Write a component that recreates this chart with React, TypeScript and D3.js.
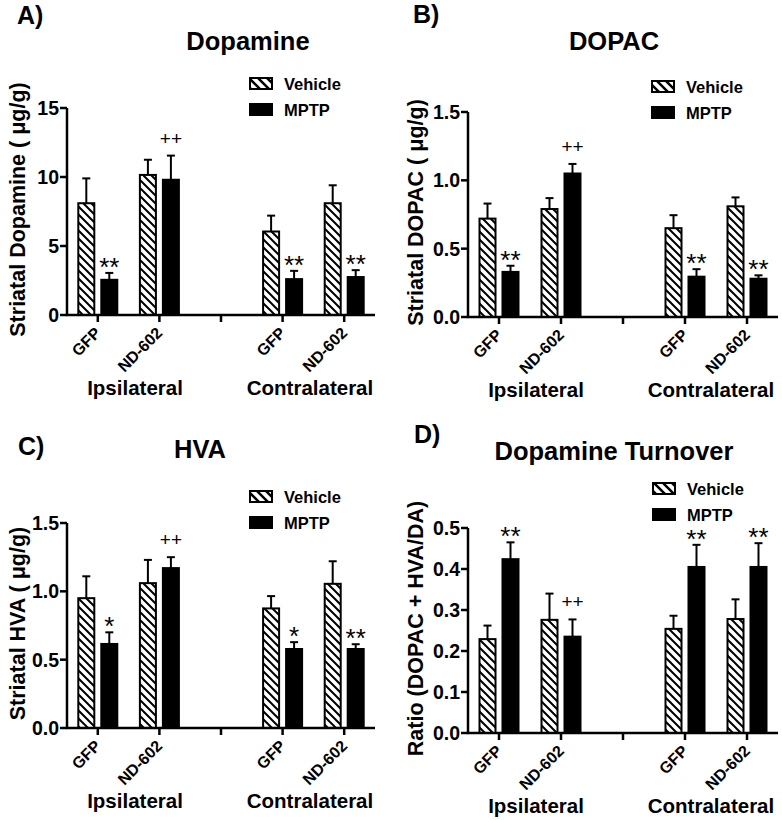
import React from "react";
import * as d3 from "d3";

// ---------- data ----------
const slots = ["GFP_I", "ND_I", "gap", "GFP_C", "ND_C"];
const tickLabels = ["GFP", "ND-602", "", "GFP", "ND-602"];
const barSlots = ["GFP_I", "ND_I", "GFP_C", "ND_C"];
const groupLabels = ["Ipsilateral", "Contralateral"];
const seriesNames = ["Vehicle", "MPTP"];

const daVehicle = [8.1, 10.15, 6.05, 8.1];
const daVehicleErr = [1.8, 1.1, 1.15, 1.3];
const daMPTP = [2.55, 9.8, 2.6, 2.75];
const daMPTPErr = [0.5, 1.75, 0.6, 0.5];
const daMarks = ["**", "++", "**", "**"];
const daTicks = [0, 5, 10, 15];

const dopacVehicle = [0.72, 0.79, 0.65, 0.81];
const dopacVehicleErr = [0.11, 0.08, 0.095, 0.065];
const dopacMPTP = [0.33, 1.05, 0.295, 0.28];
const dopacMPTPErr = [0.045, 0.07, 0.055, 0.025];
const dopacMarks = ["**", "++", "**", "**"];
const dopacTicks = [0, 0.5, 1.0, 1.5];

const hvaVehicle = [0.95, 1.06, 0.875, 1.055];
const hvaVehicleErr = [0.16, 0.17, 0.09, 0.165];
const hvaMPTP = [0.615, 1.17, 0.578, 0.578];
const hvaMPTPErr = [0.085, 0.08, 0.05, 0.035];
const hvaMarks = ["*", "++", "*", "**"];
const hvaTicks = [0, 0.5, 1.0, 1.5];

const toVehicle = [0.229, 0.276, 0.254, 0.278];
const toVehicleErr = [0.033, 0.064, 0.032, 0.048];
const toMPTP = [0.424, 0.235, 0.405, 0.405];
const toMPTPErr = [0.041, 0.042, 0.054, 0.058];
const toMarks = ["**", "++", "**", "**"];
const toTicks = [0, 0.1, 0.2, 0.3, 0.4, 0.5];

// ---------- layout ----------
const FONT = "'Liberation Sans', Arial, sans-serif";

const panels = [
  {
    key: "A", letter: "A)", letterX: 17, letterY: 24,
    title: "Dopamine", titleX: 248, titleY: 50,
    yLabel: "Striatal Dopamine ( \u03bcg/g)", yLabelX: 25,
    ax: 67, y0: 315, yTop: 108, xr: 375,
    ticks: daTicks, fmt: d3.format("d"),
    veh: daVehicle, vehErr: daVehicleErr, mptp: daMPTP, mptpErr: daMPTPErr, marks: daMarks,
    legendX: 249, legendY: 77,
  },
  {
    key: "B", letter: "B)", letterX: 413, letterY: 23,
    title: "DOPAC", titleX: 614, titleY: 50,
    yLabel: "Striatal DOPAC ( \u03bcg/g)", yLabelX: 423,
    ax: 468, y0: 317, yTop: 112, xr: 778,
    ticks: dopacTicks, fmt: d3.format(".1f"),
    veh: dopacVehicle, vehErr: dopacVehicleErr, mptp: dopacMPTP, mptpErr: dopacMPTPErr, marks: dopacMarks,
    legendX: 651, legendY: 80,
  },
  {
    key: "C", letter: "C)", letterX: 18, letterY: 455,
    title: "HVA", titleX: 200, titleY: 458,
    yLabel: "Striatal HVA ( \u03bcg/g)", yLabelX: 25,
    ax: 67, y0: 728, yTop: 523, xr: 375,
    ticks: hvaTicks, fmt: d3.format(".1f"),
    veh: hvaVehicle, vehErr: hvaVehicleErr, mptp: hvaMPTP, mptpErr: hvaMPTPErr, marks: hvaMarks,
    legendX: 249, legendY: 490,
  },
  {
    key: "D", letter: "D)", letterX: 414, letterY: 443,
    title: "Dopamine Turnover", titleX: 614, titleY: 460,
    yLabel: "Ratio (DOPAC + HVA/DA)", yLabelX: 423,
    ax: 468, y0: 733, yTop: 528, xr: 778,
    ticks: toTicks, fmt: d3.format(".1f"),
    veh: toVehicle, vehErr: toVehicleErr, mptp: toMPTP, mptpErr: toMPTPErr, marks: toMarks,
    legendX: 652, legendY: 482,
  },
];

function Panel({ p }: { p: any }) {
  const maxV = p.ticks[p.ticks.length - 1];
  const y = d3.scaleLinear().domain([0, maxV]).range([p.y0, p.yTop]);
  const x = d3.scaleBand<string>().domain(slots).range([p.ax, p.xr]);
  const sub = d3.scaleBand<string>().domain(seriesNames).range([-20.5, 20.5]).paddingInner(0.217);
  const bw = sub.bandwidth();
  const cx = (s: string) => (x(s) as number) + x.bandwidth() / 2;
  const series = [
    { name: "Vehicle", vals: p.veh, errs: p.vehErr, fill: "url(#hatch)", marks: null },
    { name: "MPTP", vals: p.mptp, errs: p.mptpErr, fill: "#000", marks: p.marks },
  ];
  const midY = (p.y0 + p.yTop) / 2 - 2;
  return (
    <g>
      <text x={p.letterX} y={p.letterY} fontSize={25} fontWeight="bold">{p.letter}</text>
      <text x={p.titleX} y={p.titleY} fontSize={25.5} fontWeight="bold" textAnchor="middle">{p.title}</text>
      <text transform={`translate(${p.yLabelX},${midY}) rotate(-90)`} fontSize={21.5} fontWeight="bold" textAnchor="middle">{p.yLabel}</text>

      {/* legend */}
      {seriesNames.map((n, i) => (
        <g key={n}>
          <rect x={p.legendX + 1} y={p.legendY + i * 26 + 1} width={22} height={11}
            fill={i === 0 ? "url(#hatchL)" : "#000"} stroke="#000" strokeWidth={2} />
          <text x={p.legendX + 35} y={p.legendY + i * 26 + 12.5} fontSize={16.5} fontWeight="bold">{n}</text>
        </g>
      ))}

      {/* bars */}
      {series.map((s) =>
        barSlots.map((slot, i) => {
          const bx = cx(slot) + (sub(s.name) as number);
          const v = s.vals[i];
          const top = y(v + s.errs[i]);
          const mx = bx + bw / 2;
          return (
            <g key={s.name + slot}>
              <line x1={mx} x2={mx} y1={y(v)} y2={top} stroke="#000" strokeWidth={2} />
              <line x1={mx - 4} x2={mx + 4} y1={top} y2={top} stroke="#000" strokeWidth={2} />
              <rect x={bx + 1} y={y(v)} width={bw - 2} height={p.y0 - y(v)} fill={s.fill} stroke="#000" strokeWidth={2} />
              {s.marks && s.marks[i] ? (
                s.marks[i].startsWith("+") ? (
                  <text x={mx} y={top - 11} fontSize={19} textAnchor="middle">{s.marks[i]}</text>
                ) : (
                  <text x={mx} y={top + 3} fontSize={26} textAnchor="middle">{s.marks[i]}</text>
                )
              ) : null}
            </g>
          );
        })
      )}

      {/* y axis */}
      <line x1={p.ax} x2={p.ax} y1={p.y0 + 1} y2={p.yTop} stroke="#000" strokeWidth={2.5} />
      {p.ticks.map((t: number) => (
        <g key={t}>
          <line x1={p.ax - 7} x2={p.ax} y1={y(t)} y2={y(t)} stroke="#000" strokeWidth={2.5} />
          <text x={p.ax - 8} y={y(t)} dy="0.36em" fontSize={19.5} fontWeight="bold" textAnchor="end">{p.fmt(t)}</text>
        </g>
      ))}

      {/* x axis */}
      <line x1={p.ax - 1} x2={p.xr} y1={p.y0} y2={p.y0} stroke="#000" strokeWidth={2.5} />
      {slots.map((s, i) => (
        <g key={s}>
          <line x1={cx(s)} x2={cx(s)} y1={p.y0} y2={p.y0 + 7} stroke="#000" strokeWidth={2.5} />
          {tickLabels[i] ? (
            <text transform={`translate(${cx(s) + 4},${p.y0 + 19}) rotate(-45)`} fontSize={16} fontWeight="bold" textAnchor="end">{tickLabels[i]}</text>
          ) : null}
        </g>
      ))}
      {groupLabels.map((g, i) => (
        <text key={g} x={p.ax + (i === 0 ? 68 : 243)} y={p.y0 + 80} fontSize={20.5} fontWeight="bold" textAnchor="middle">{g}</text>
      ))}
    </g>
  );
}

export default function App() {
  return (
    <svg width={782} height={820} style={{ position: "absolute", left: 0, top: 0, display: "block", background: "#fff" }}
      fontFamily={FONT}>
      <defs>
        <pattern id="hatch" patternUnits="userSpaceOnUse" width={8} height={8}>
          <rect width={8} height={8} fill="#fff" />
          <path d="M-2,-2 L10,10 M-2,6 L2,10 M6,-2 L10,2" stroke="#000" strokeWidth={2} />
        </pattern>
        <pattern id="hatchL" patternUnits="userSpaceOnUse" width={9} height={9}>
          <rect width={9} height={9} fill="#fff" />
          <path d="M-2,-2 L11,11 M-2,7 L2,11 M7,-2 L11,2" stroke="#000" strokeWidth={2.5} />
        </pattern>
      </defs>
      <rect width={782} height={820} fill="#fff" />
      {panels.map((p) => (
        <Panel key={p.key} p={p} />
      ))}
    </svg>
  );
}
